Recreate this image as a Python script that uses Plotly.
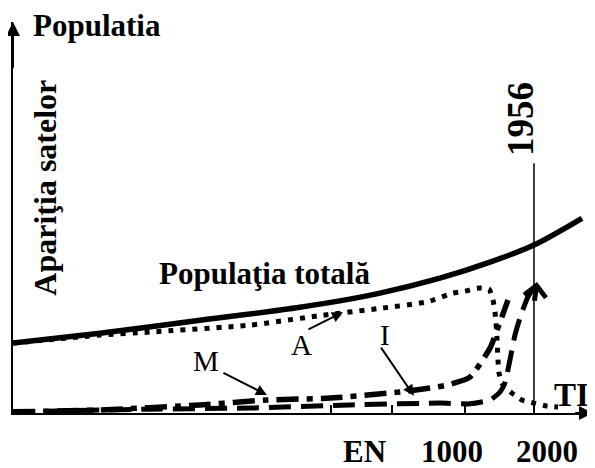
import plotly.graph_objects as go

# ---- data (x: years, y: population, arbitrary units) ----
total_years = [-5220, -4022, -2645, -1267, -165, 661, 1350, 1956, 2617]
total_pop = [18.3, 20.9, 24.3, 27.7, 31.4, 35.3, 39.5, 44.0, 51.0]

a_years = [-5220, -4022, -3333, -1956, -1033, -124, 482, 840, 1006, 1171, 1336,
           1391, 1419, 1433, 1446, 1453, 1460, 1474, 1529, 1653, 1791, 1956, 2135, 2287]
a_pop = [18.3, 20.4, 21.2, 23.0, 25.4, 27.5, 29.1, 31.4, 31.9, 32.7, 32.5,
         29.6, 26.4, 23.6, 19.9, 17.0, 13.9, 10.5, 7.3, 5.2, 3.4, 2.6, 1.8, 1.6]

i_years = [-5220, -3333, -1956, -579, 661, 1074, 1350, 1488, 1556, 1625, 1694, 1777, 1873, 1997]
i_pop = [0.3, 1.0, 1.3, 2.1, 2.6, 2.4, 3.4, 5.5, 7.9, 13.9, 20.4, 25.7, 30.4, 34.3]

m_years = [-5220, -4022, -2645, -1722, -854, 110, 758, 1074, 1350, 1488, 1598]
m_pop = [0.3, 0.8, 2.1, 3.4, 3.9, 5.5, 7.3, 9.4, 17.0, 23.8, 29.6]

x_ticks = [-840, 0, 1000, 1956]
x_tick_labels = ["EN", "1000", "2000"]
x_tick_label_pos = [-372, 833, 2135]
marker_year = 1956

FONT = "Liberation Serif"

fig = go.Figure()
fig.add_trace(go.Scatter(x=total_years, y=total_pop, mode="lines", cliponaxis=False,
                         line=dict(color="black", width=5.5, shape="spline", smoothing=0.8)))
fig.add_trace(go.Scatter(x=a_years, y=a_pop, mode="lines", cliponaxis=False,
                         line=dict(color="black", width=5, dash="5px,7px", shape="spline", smoothing=0.5)))
fig.add_trace(go.Scatter(x=i_years, y=i_pop, mode="lines", cliponaxis=False,
                         line=dict(color="black", width=5, dash="22px,10px", shape="spline", smoothing=0.5)))
fig.add_trace(go.Scatter(x=m_years, y=m_pop, mode="lines", cliponaxis=False,
                         line=dict(color="black", width=5.5, dash="22px,8px,6px,8px", shape="spline", smoothing=0.5)))

# vertical 1956 line
fig.add_shape(type="line", x0=marker_year, x1=marker_year, y0=0, y1=65.4,
              line=dict(color="black", width=1.5))

ann = []
def txt(x, y, s, size, bold=True, angle=0, yref="y"):
    ann.append(dict(x=x, y=y, xref="x", yref=yref, text=("<b>%s</b>" % s) if bold else s,
                    showarrow=False, xanchor="center", yanchor="middle", textangle=angle,
                    font=dict(family=FONT, size=size, color="black")))

def arrow(x0, y0, x1, y1, head=2, width=2, size=1.1):
    ann.append(dict(x=x1, y=y1, ax=x0, ay=y0, xref="x", yref="y", axref="x", ayref="y",
                    text="", showarrow=True, arrowhead=head, arrowwidth=width,
                    arrowsize=size, arrowcolor="black", standoff=0))

# axis arrows
arrow(2500, 0, 2769, 0, head=2, width=2, size=1.4)
arrow(-5220, 90, -5220, 102.4, head=2, width=2, size=1.4)

# pointer arrows
arrow(-1171, 21.7, -675, 26.4)   # A
arrow(-2342, 10.7, -1722, 4.7)   # M
arrow(-165, 17.5, 303, 4.5)      # I
# chevron at end of I
arrow(1960, 29.0, 1997, 34.3, head=4, width=5, size=0.85)

txt(-4063, 0.99, "Populatia", 31, yref="paper")
txt(-4780, 59.0, "Apariţia satelor", 32, angle=-90)
txt(1777, 77.0, "1956", 37, angle=-90)
txt(-1749, 36.6, "Populaţia totală", 31)
txt(2479, 4.6, "TI", 33)
txt(-1253, 17.7, "A", 29, bold=False)
txt(-2555, 13.7, "M", 29, bold=False)
txt(-96, 20.3, "I", 29, bold=False)
for lab, xp in zip(x_tick_labels, x_tick_label_pos):
    txt(xp, -0.098, lab, 31, yref="paper")

# page body has an 8px default margin, so the figure is drawn 8px smaller
fig.update_layout(
    width=587, height=460,
    margin=dict(l=5, r=2, t=14, b=55, pad=0),
    paper_bgcolor="white", plot_bgcolor="white",
    showlegend=False, annotations=ann,
    xaxis=dict(range=[-5220, 2769], showgrid=False, zeroline=False, showline=True,
               linecolor="black", linewidth=2, ticks="inside", tickvals=x_ticks,
               ticklen=8, tickwidth=1.5, tickcolor="black", showticklabels=False),
    yaxis=dict(range=[0, 102.4], showgrid=False, zeroline=False, showline=True,
               linecolor="black", linewidth=2, ticks="inside", tickvals=[18.6],
               ticklen=4, tickwidth=1.5, tickcolor="black", showticklabels=False),
)

fig.write_html("out.html")
